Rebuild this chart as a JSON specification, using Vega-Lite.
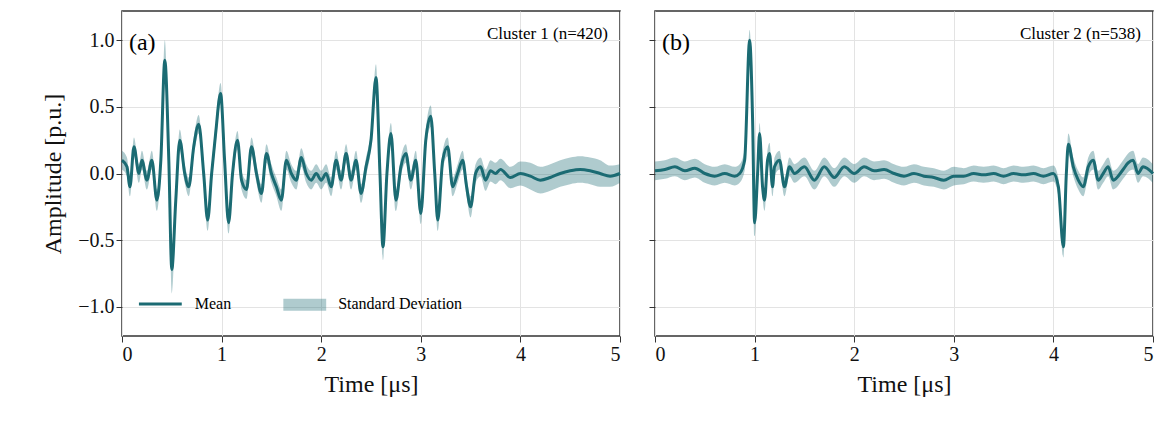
{
  "$schema": "https://vega.github.io/schema/vega-lite/v6.json",
  "config": {
    "font": "Liberation Serif",
    "view": {"stroke": "#333", "strokeWidth": 1.5},
    "axis": {"labelFontSize": 20, "titleFontSize": 24, "titleFontWeight": "normal", "labelColor": "#111", "titleColor": "#111", "tickColor": "#333", "tickSize": 6, "domain": false, "gridColor": "#e3e3e3", "labelFont": "Liberation Serif", "titleFont": "Liberation Serif"}
  },
  "spacing": 20,
  "padding": {"left": 40, "top": 10, "right": 14, "bottom": 5},
  "datasets": {
    "a": [
      {"t":0,"m":0.1,"lo":0.03,"hi":0.17},{"t":0.05,"m":0.05,"lo":-0.02,"hi":0.12},{"t":0.08,"m":-0.1,"lo":-0.17,"hi":-0.03},{"t":0.12,"m":0.2,"lo":0.13,"hi":0.27},{"t":0.17,"m":0.0,"lo":-0.07,"hi":0.07},{"t":0.2,"m":0.1,"lo":0.03,"hi":0.17},{"t":0.25,"m":-0.05,"lo":-0.12,"hi":0.02},{"t":0.3,"m":0.1,"lo":0.03,"hi":0.17},{"t":0.35,"m":-0.2,"lo":-0.28,"hi":-0.12},{"t":0.39,"m":0.1,"lo":0.02,"hi":0.18},{"t":0.43,"m":0.85,"lo":0.7,"hi":1.0},{"t":0.47,"m":0.1,"lo":0.0,"hi":0.2},{"t":0.5,"m":-0.72,"lo":-0.9,"hi":-0.57},{"t":0.54,"m":-0.2,"lo":-0.3,"hi":-0.1},{"t":0.58,"m":0.25,"lo":0.17,"hi":0.33},{"t":0.63,"m":0.0,"lo":-0.07,"hi":0.07},{"t":0.67,"m":-0.1,"lo":-0.17,"hi":-0.03},{"t":0.72,"m":0.2,"lo":0.13,"hi":0.27},{"t":0.77,"m":0.37,"lo":0.3,"hi":0.44},{"t":0.82,"m":0.0,"lo":-0.07,"hi":0.07},{"t":0.86,"m":-0.35,"lo":-0.43,"hi":-0.27},{"t":0.9,"m":0.0,"lo":-0.07,"hi":0.07},{"t":0.94,"m":0.3,"lo":0.22,"hi":0.38},{"t":0.99,"m":0.6,"lo":0.52,"hi":0.68},{"t":1.03,"m":0.1,"lo":0.02,"hi":0.18},{"t":1.07,"m":-0.37,"lo":-0.45,"hi":-0.29},{"t":1.11,"m":0.0,"lo":-0.07,"hi":0.07},{"t":1.16,"m":0.25,"lo":0.18,"hi":0.32},{"t":1.2,"m":-0.05,"lo":-0.12,"hi":0.02},{"t":1.25,"m":-0.12,"lo":-0.19,"hi":-0.05},{"t":1.3,"m":0.2,"lo":0.13,"hi":0.27},{"t":1.35,"m":0.0,"lo":-0.07,"hi":0.07},{"t":1.4,"m":-0.15,"lo":-0.22,"hi":-0.08},{"t":1.45,"m":0.15,"lo":0.08,"hi":0.22},{"t":1.5,"m":0.0,"lo":-0.07,"hi":0.07},{"t":1.55,"m":-0.1,"lo":-0.17,"hi":-0.03},{"t":1.6,"m":-0.2,"lo":-0.28,"hi":-0.12},{"t":1.65,"m":0.1,"lo":0.03,"hi":0.17},{"t":1.7,"m":0.0,"lo":-0.07,"hi":0.07},{"t":1.75,"m":-0.05,"lo":-0.12,"hi":0.02},{"t":1.8,"m":0.12,"lo":0.05,"hi":0.19},{"t":1.85,"m":0.0,"lo":-0.07,"hi":0.07},{"t":1.9,"m":-0.05,"lo":-0.12,"hi":0.02},{"t":1.95,"m":0.0,"lo":-0.07,"hi":0.07},{"t":2.0,"m":-0.05,"lo":-0.12,"hi":0.02},{"t":2.05,"m":0.0,"lo":-0.07,"hi":0.07},{"t":2.1,"m":-0.1,"lo":-0.17,"hi":-0.03},{"t":2.15,"m":0.1,"lo":0.03,"hi":0.17},{"t":2.2,"m":-0.05,"lo":-0.12,"hi":0.02},{"t":2.25,"m":0.15,"lo":0.08,"hi":0.22},{"t":2.3,"m":-0.05,"lo":-0.12,"hi":0.02},{"t":2.35,"m":0.1,"lo":0.03,"hi":0.17},{"t":2.4,"m":-0.15,"lo":-0.22,"hi":-0.08},{"t":2.45,"m":0.05,"lo":-0.02,"hi":0.12},{"t":2.5,"m":0.25,"lo":0.18,"hi":0.32},{"t":2.55,"m":0.72,"lo":0.62,"hi":0.82},{"t":2.59,"m":0.0,"lo":-0.08,"hi":0.08},{"t":2.62,"m":-0.55,"lo":-0.65,"hi":-0.45},{"t":2.66,"m":0.0,"lo":-0.08,"hi":0.08},{"t":2.7,"m":0.3,"lo":0.22,"hi":0.38},{"t":2.75,"m":-0.2,"lo":-0.28,"hi":-0.12},{"t":2.8,"m":0.05,"lo":-0.02,"hi":0.12},{"t":2.85,"m":0.15,"lo":0.08,"hi":0.22},{"t":2.9,"m":-0.05,"lo":-0.12,"hi":0.02},{"t":2.95,"m":0.1,"lo":0.03,"hi":0.17},{"t":3.0,"m":-0.3,"lo":-0.38,"hi":-0.22},{"t":3.05,"m":0.25,"lo":0.17,"hi":0.33},{"t":3.1,"m":0.43,"lo":0.35,"hi":0.51},{"t":3.14,"m":0.0,"lo":-0.08,"hi":0.08},{"t":3.17,"m":-0.35,"lo":-0.43,"hi":-0.27},{"t":3.22,"m":0.1,"lo":0.03,"hi":0.17},{"t":3.27,"m":0.2,"lo":0.13,"hi":0.27},{"t":3.32,"m":-0.1,"lo":-0.17,"hi":-0.03},{"t":3.37,"m":0.0,"lo":-0.07,"hi":0.07},{"t":3.42,"m":0.1,"lo":0.03,"hi":0.17},{"t":3.46,"m":-0.1,"lo":-0.17,"hi":-0.03},{"t":3.5,"m":-0.25,"lo":-0.33,"hi":-0.17},{"t":3.55,"m":0.0,"lo":-0.07,"hi":0.07},{"t":3.6,"m":0.05,"lo":-0.02,"hi":0.12},{"t":3.65,"m":-0.05,"lo":-0.13,"hi":0.03},{"t":3.7,"m":0.02,"lo":-0.06,"hi":0.1},{"t":3.75,"m":0.0,"lo":-0.08,"hi":0.08},{"t":3.8,"m":0.03,"lo":-0.05,"hi":0.11},{"t":3.9,"m":-0.03,"lo":-0.11,"hi":0.05},{"t":4.0,"m":0.0,"lo":-0.09,"hi":0.09},{"t":4.1,"m":-0.02,"lo":-0.12,"hi":0.08},{"t":4.2,"m":-0.05,"lo":-0.15,"hi":0.05},{"t":4.3,"m":-0.03,"lo":-0.13,"hi":0.07},{"t":4.4,"m":0.0,"lo":-0.1,"hi":0.1},{"t":4.5,"m":0.02,"lo":-0.08,"hi":0.12},{"t":4.6,"m":0.03,"lo":-0.07,"hi":0.13},{"t":4.7,"m":0.02,"lo":-0.08,"hi":0.12},{"t":4.8,"m":0.0,"lo":-0.1,"hi":0.1},{"t":4.9,"m":-0.02,"lo":-0.1,"hi":0.06},{"t":5.0,"m":0.0,"lo":-0.07,"hi":0.07}
    ],
    "b": [
      {"t":0,"m":0.02,"lo":-0.05,"hi":0.09},{"t":0.1,"m":0.03,"lo":-0.04,"hi":0.1},{"t":0.2,"m":0.05,"lo":-0.02,"hi":0.12},{"t":0.3,"m":0.02,"lo":-0.05,"hi":0.09},{"t":0.4,"m":0.04,"lo":-0.03,"hi":0.11},{"t":0.5,"m":0.0,"lo":-0.07,"hi":0.07},{"t":0.6,"m":-0.02,"lo":-0.09,"hi":0.05},{"t":0.7,"m":0.0,"lo":-0.07,"hi":0.07},{"t":0.8,"m":-0.02,"lo":-0.09,"hi":0.05},{"t":0.85,"m":0.0,"lo":-0.07,"hi":0.07},{"t":0.9,"m":0.1,"lo":0.02,"hi":0.18},{"t":0.95,"m":1.0,"lo":0.9,"hi":1.08},{"t":0.98,"m":0.4,"lo":0.3,"hi":0.5},{"t":1.0,"m":-0.37,"lo":-0.47,"hi":-0.27},{"t":1.03,"m":0.0,"lo":-0.08,"hi":0.08},{"t":1.05,"m":0.3,"lo":0.22,"hi":0.38},{"t":1.08,"m":-0.1,"lo":-0.18,"hi":-0.02},{"t":1.1,"m":-0.2,"lo":-0.28,"hi":-0.12},{"t":1.13,"m":0.1,"lo":0.02,"hi":0.18},{"t":1.15,"m":0.15,"lo":0.07,"hi":0.23},{"t":1.18,"m":-0.1,"lo":-0.17,"hi":-0.03},{"t":1.2,"m":0.05,"lo":-0.02,"hi":0.12},{"t":1.25,"m":0.1,"lo":0.03,"hi":0.17},{"t":1.3,"m":-0.1,"lo":-0.17,"hi":-0.03},{"t":1.35,"m":0.05,"lo":-0.02,"hi":0.12},{"t":1.4,"m":0.0,"lo":-0.07,"hi":0.07},{"t":1.5,"m":0.05,"lo":-0.02,"hi":0.12},{"t":1.6,"m":-0.05,"lo":-0.12,"hi":0.02},{"t":1.7,"m":0.05,"lo":-0.02,"hi":0.12},{"t":1.8,"m":-0.03,"lo":-0.1,"hi":0.04},{"t":1.9,"m":0.05,"lo":-0.02,"hi":0.12},{"t":2.0,"m":0.0,"lo":-0.07,"hi":0.07},{"t":2.1,"m":0.05,"lo":-0.02,"hi":0.12},{"t":2.2,"m":0.02,"lo":-0.05,"hi":0.09},{"t":2.3,"m":0.03,"lo":-0.04,"hi":0.1},{"t":2.4,"m":0.0,"lo":-0.07,"hi":0.07},{"t":2.5,"m":-0.02,"lo":-0.09,"hi":0.05},{"t":2.6,"m":0.0,"lo":-0.07,"hi":0.07},{"t":2.7,"m":-0.02,"lo":-0.09,"hi":0.05},{"t":2.8,"m":-0.03,"lo":-0.1,"hi":0.04},{"t":2.9,"m":-0.05,"lo":-0.12,"hi":0.02},{"t":3.0,"m":-0.02,"lo":-0.09,"hi":0.05},{"t":3.1,"m":-0.02,"lo":-0.08,"hi":0.04},{"t":3.2,"m":0.0,"lo":-0.06,"hi":0.06},{"t":3.3,"m":-0.01,"lo":-0.07,"hi":0.05},{"t":3.4,"m":0.0,"lo":-0.06,"hi":0.06},{"t":3.5,"m":-0.02,"lo":-0.08,"hi":0.04},{"t":3.6,"m":0.0,"lo":-0.06,"hi":0.06},{"t":3.7,"m":-0.01,"lo":-0.07,"hi":0.05},{"t":3.8,"m":0.0,"lo":-0.06,"hi":0.06},{"t":3.9,"m":-0.02,"lo":-0.08,"hi":0.04},{"t":4.0,"m":0.0,"lo":-0.06,"hi":0.06},{"t":4.05,"m":-0.1,"lo":-0.17,"hi":-0.03},{"t":4.1,"m":-0.55,"lo":-0.63,"hi":-0.47},{"t":4.13,"m":0.0,"lo":-0.08,"hi":0.08},{"t":4.15,"m":0.22,"lo":0.14,"hi":0.3},{"t":4.2,"m":0.05,"lo":-0.02,"hi":0.12},{"t":4.25,"m":-0.05,"lo":-0.12,"hi":0.02},{"t":4.3,"m":-0.1,"lo":-0.17,"hi":-0.03},{"t":4.35,"m":0.05,"lo":-0.02,"hi":0.12},{"t":4.4,"m":0.1,"lo":0.03,"hi":0.17},{"t":4.45,"m":-0.05,"lo":-0.12,"hi":0.02},{"t":4.5,"m":0.0,"lo":-0.07,"hi":0.07},{"t":4.55,"m":0.05,"lo":-0.02,"hi":0.12},{"t":4.6,"m":-0.05,"lo":-0.12,"hi":0.02},{"t":4.7,"m":0.03,"lo":-0.04,"hi":0.1},{"t":4.75,"m":0.08,"lo":0.01,"hi":0.15},{"t":4.8,"m":0.1,"lo":0.03,"hi":0.17},{"t":4.85,"m":0.0,"lo":-0.07,"hi":0.07},{"t":4.9,"m":0.05,"lo":-0.02,"hi":0.12},{"t":5.0,"m":0.0,"lo":-0.07,"hi":0.07}
    ]
  },
  "hconcat": [
    {
      "width": 498, "height": 325,
      "layer": [
        {"data": {"name": "a"}, "mark": {"type": "area", "color": "#1b6b73", "opacity": 0.35, "interpolate": "monotone"},
         "encoding": {
           "x": {"field": "t", "type": "quantitative", "scale": {"domain": [0, 5], "nice": false}, "title": "Time [μs]", "axis": {"tickCount": 5, "titlePadding": 8}},
           "y": {"field": "lo", "type": "quantitative", "scale": {"domain": [-1.22, 1.22], "nice": false}, "title": "Amplitude [p.u.]", "axis": {"values": [-1, -0.5, 0, 0.5, 1], "format": ".1f", "titlePadding": 12}},
           "y2": {"field": "hi"}}},
        {"data": {"name": "a"}, "mark": {"type": "line", "color": "#1b6b73", "strokeWidth": 3, "interpolate": "monotone"},
         "encoding": {"x": {"field": "t", "type": "quantitative"}, "y": {"field": "m", "type": "quantitative"}}},
        {"data": {"values": [{"t": 0.17, "y": -0.98}, {"t": 0.6, "y": -0.98}]}, "mark": {"type": "line", "color": "#1b6b73", "strokeWidth": 3},
         "encoding": {"x": {"field": "t", "type": "quantitative"}, "y": {"field": "y", "type": "quantitative"}}},
        {"data": {"values": [{"t": 1.62, "t2": 2.05, "y": -0.94, "y2": -1.03}]}, "mark": {"type": "rect", "color": "#1b6b73", "opacity": 0.35},
         "encoding": {"x": {"field": "t", "type": "quantitative"}, "x2": {"field": "t2"}, "y": {"field": "y", "type": "quantitative"}, "y2": {"field": "y2"}}},
        {"data": {"values": [{"t": 0.73, "y": -0.98, "s": "Mean"}, {"t": 2.17, "y": -0.98, "s": "Standard Deviation"}]}, "mark": {"type": "text", "align": "left", "baseline": "middle", "fontSize": 16, "font": "Liberation Serif"},
         "encoding": {"x": {"field": "t", "type": "quantitative"}, "y": {"field": "y", "type": "quantitative"}, "text": {"field": "s"}}},
        {"data": {"values": [{"t": 0.07, "y": 0.98, "s": "(a)"}]}, "mark": {"type": "text", "align": "left", "baseline": "middle", "fontSize": 24, "font": "Liberation Serif"},
         "encoding": {"x": {"field": "t", "type": "quantitative"}, "y": {"field": "y", "type": "quantitative"}, "text": {"field": "s"}}},
        {"data": {"values": [{"t": 4.88, "y": 1.05, "s": "Cluster 1 (n=420)"}]}, "mark": {"type": "text", "align": "right", "baseline": "middle", "fontSize": 17, "font": "Liberation Serif"},
         "encoding": {"x": {"field": "t", "type": "quantitative"}, "y": {"field": "y", "type": "quantitative"}, "text": {"field": "s"}}}
      ]
    },
    {
      "width": 498, "height": 325,
      "layer": [
        {"data": {"name": "b"}, "mark": {"type": "area", "color": "#1b6b73", "opacity": 0.35, "interpolate": "monotone"},
         "encoding": {
           "x": {"field": "t", "type": "quantitative", "scale": {"domain": [0, 5], "nice": false}, "title": "Time [μs]", "axis": {"tickCount": 5, "titlePadding": 8}},
           "y": {"field": "lo", "type": "quantitative", "scale": {"domain": [-1.22, 1.22], "nice": false}, "title": null, "axis": {"values": [-1, -0.5, 0, 0.5, 1], "labels": false}},
           "y2": {"field": "hi"}}},
        {"data": {"name": "b"}, "mark": {"type": "line", "color": "#1b6b73", "strokeWidth": 3, "interpolate": "monotone"},
         "encoding": {"x": {"field": "t", "type": "quantitative"}, "y": {"field": "m", "type": "quantitative"}}},
        {"data": {"values": [{"t": 0.07, "y": 0.98, "s": "(b)"}]}, "mark": {"type": "text", "align": "left", "baseline": "middle", "fontSize": 24, "font": "Liberation Serif"},
         "encoding": {"x": {"field": "t", "type": "quantitative"}, "y": {"field": "y", "type": "quantitative"}, "text": {"field": "s"}}},
        {"data": {"values": [{"t": 4.88, "y": 1.05, "s": "Cluster 2 (n=538)"}]}, "mark": {"type": "text", "align": "right", "baseline": "middle", "fontSize": 17, "font": "Liberation Serif"},
         "encoding": {"x": {"field": "t", "type": "quantitative"}, "y": {"field": "y", "type": "quantitative"}, "text": {"field": "s"}}}
      ]
    }
  ]
}
